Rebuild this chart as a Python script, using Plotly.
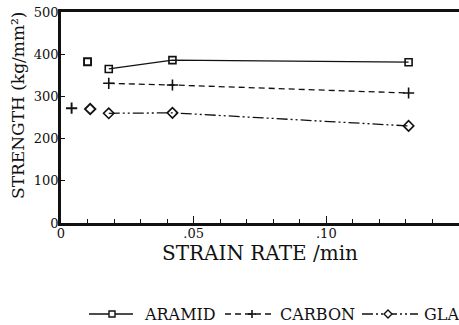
import plotly.graph_objects as go

# ---- data ----
series_names = ["ARAMID", "CARBON", "GLASS"]
rate_x = [0.018, 0.042, 0.131]
aramid_y = [365, 386, 381]
carbon_y = [331, 327, 308]
glass_y = [260, 261, 230]

aramid_iso_x = [0.010]
aramid_iso_y = [382]
carbon_iso_x = [0.004]
carbon_iso_y = [272]
glass_iso_x = [0.011]
glass_iso_y = [270]

x_tickvals = [0, 0.05, 0.10, 0.15]
x_ticktext = ["0", ".05", ".10", ""]
y_tickvals = [0, 100, 200, 300, 400, 500]
y_ticktext = ["0", "100", "200", "300", "400", "500"]

FONT = "DejaVu Serif"
BLACK = "#111111"

styles = {
    "ARAMID": dict(dash="solid", symbol="square-open", size=7),
    "CARBON": dict(dash="6px,4px", symbol="cross-thin-open", size=8),
    "GLASS": dict(dash="11px,3px,2px,3px,2px,3px", symbol="diamond-open", size=8),
}
conn = {"ARAMID": aramid_y, "CARBON": carbon_y, "GLASS": glass_y}
iso = {"ARAMID": (aramid_iso_x, aramid_iso_y),
       "CARBON": (carbon_iso_x, carbon_iso_y),
       "GLASS": (glass_iso_x, glass_iso_y)}

fig = go.Figure()
for name in series_names:
    st = styles[name]
    fig.add_trace(go.Scatter(
        x=rate_x, y=conn[name], mode="lines+markers", name=name,
        line=dict(color=BLACK, width=1.3, dash=st["dash"]),
        marker=dict(symbol=st["symbol"], size=st["size"], color=BLACK,
                    line=dict(color=BLACK, width=1.6)),
        showlegend=False))
    ix, iy = iso[name]
    fig.add_trace(go.Scatter(
        x=ix, y=iy, mode="markers", name=name,
        marker=dict(symbol=st["symbol"], size=st["size"], color=BLACK,
                    line=dict(color=BLACK, width=1.9)),
        showlegend=False))

# ---- plot geometry (pixels) ----
L, T, W, H = 61, 12, 398, 211
def px(xp):
    return (xp - L) / W
def py(yp):
    return (T + H - yp) / H

# ---- hand-made legend along the bottom ----
ly = py(314)
legend_items = [
    ("ARAMID", 89, 133, 112, 142),
    ("CARBON", 225, 275, 252, 278),
    ("GLASS", 362, 418, 388, 422),
]
shapes = []
annotations = []
for name, x0, x1, xm, xt in legend_items:
    st = styles[name]
    shapes.append(dict(type="line", xref="paper", yref="paper",
                       x0=px(x0), x1=px(x1), y0=ly, y1=ly,
                       line=dict(color=BLACK, width=1.3, dash=st["dash"])))
    common = dict(xref="paper", yref="paper", xsizemode="pixel", ysizemode="pixel",
                  xanchor=px(xm), yanchor=ly)
    if name == "ARAMID":
        shapes.append(dict(type="rect", x0=-3, x1=3, y0=-3, y1=3,
                           fillcolor="white", line=dict(color=BLACK, width=1.4), **common))
    elif name == "CARBON":
        shapes.append(dict(type="line", x0=-4, x1=4, y0=0, y1=0,
                           line=dict(color=BLACK, width=1.6), **common))
        shapes.append(dict(type="line", x0=0, x1=0, y0=-4, y1=4,
                           line=dict(color=BLACK, width=1.6), **common))
    else:
        shapes.append(dict(type="path", path="M -4 0 L 0 4 L 4 0 L 0 -4 Z",
                           fillcolor="white", line=dict(color=BLACK, width=1.4), **common))
    annotations.append(dict(text=name, xref="paper", yref="paper",
                            x=px(xt), y=ly, xanchor="left", yanchor="middle",
                            showarrow=False, font=dict(family=FONT, size=16, color=BLACK)))

# y-axis title placed where the reference has it
annotations.append(dict(text="STRENGTH (kg/mm²)", xref="paper", yref="paper",
                        x=px(18), y=py(106), xanchor="center", yanchor="middle",
                        textangle=-90, showarrow=False,
                        font=dict(family=FONT, size=17, color=BLACK)))

fig.update_layout(
    width=459, height=325,
    margin=dict(l=L, r=0, t=T, b=325 - T - H, pad=0),
    paper_bgcolor="white", plot_bgcolor="white",
    font=dict(family=FONT, color=BLACK),
    shapes=shapes, annotations=annotations,
    showlegend=False,
)
fig.update_xaxes(
    range=[0, 0.15], tickmode="array", tickvals=x_tickvals, ticktext=x_ticktext,
    ticks="inside", ticklen=7, tickwidth=1.3, tickcolor=BLACK,
    minor=dict(dtick=0.01, tick0=0, ticks="inside", ticklen=4, tickwidth=1.2, tickcolor=BLACK),
    showline=True, linecolor=BLACK, linewidth=2.5, mirror=True,
    showgrid=False, zeroline=False,
    tickfont=dict(family=FONT, size=13, color=BLACK), ticklabelstandoff=-3,
    title=dict(text="STRAIN RATE /min", font=dict(family=FONT, size=20, color=BLACK), standoff=0),
)
fig.update_yaxes(
    range=[0, 500], tickmode="array", tickvals=y_tickvals, ticktext=y_ticktext,
    ticks="inside", ticklen=4, tickwidth=1.3, tickcolor=BLACK,
    showline=True, linecolor=BLACK, linewidth=2.8, mirror=False,
    showgrid=False, zeroline=False,
    tickfont=dict(family=FONT, size=13, color=BLACK), ticklabelstandoff=-3,
)

fig.write_html("out.html", config={"displayModeBar": False},
               post_script="document.body.style.margin='0';document.body.style.padding='0';")
